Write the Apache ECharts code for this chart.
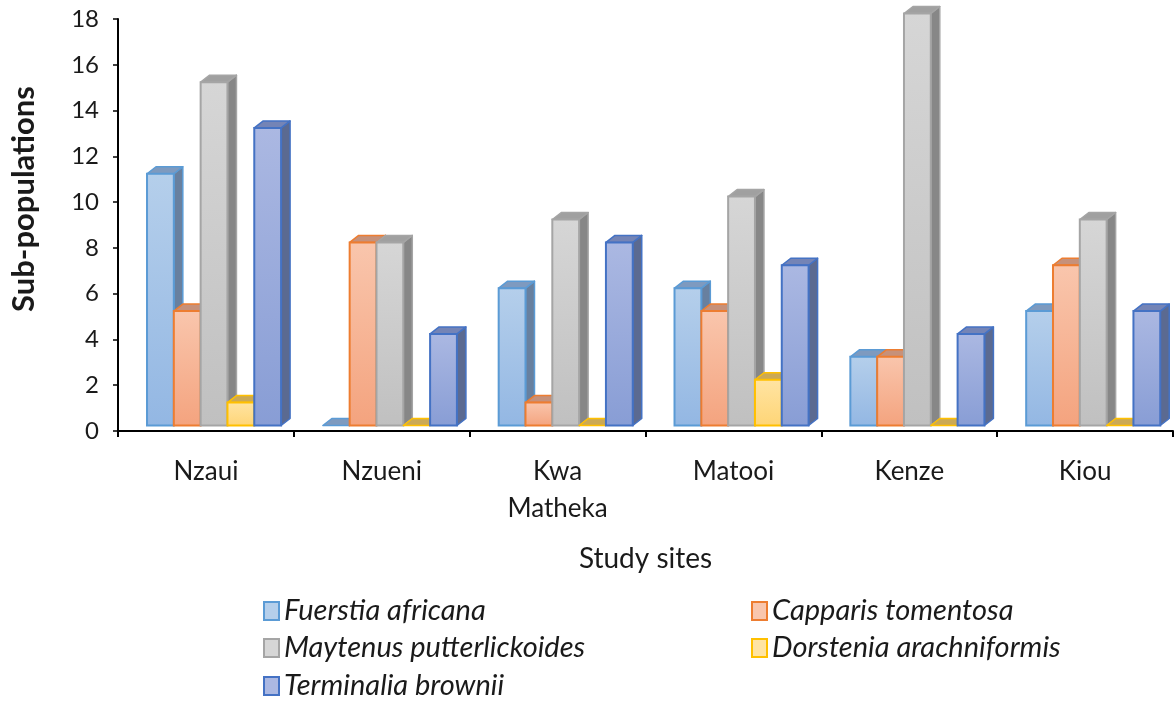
<!DOCTYPE html>
<html>
<head>
<meta charset="utf-8">
<style>
  html, body { margin: 0; padding: 0; background: #ffffff; }
  #chart { width: 1176px; height: 701px; }
</style>
<script src="https://cdn.jsdelivr.net/npm/echarts@6/dist/echarts.min.js"></script>
</head>
<body>
<div id="chart"></div>
<script>
// Study sites and sub-population counts per species
const sites = ['Nzaui', 'Nzueni', 'Kwa\nMatheka', 'Matooi', 'Kenze', 'Kiou'];
const yTicks = [0, 2, 4, 6, 8, 10, 12, 14, 16, 18];

const fuerstiaAfricana        = [11, 0, 6, 6, 3, 5];
const capparisTomentosa       = [5, 8, 1, 5, 3, 7];
const maytenusPutterlickoides = [15, 8, 9, 10, 18, 9];
const dorsteniaArachniformis  = [1, 0, 0, 2, 0, 0];
const terminaliaBrownii       = [13, 4, 8, 7, 4, 5];

const speciesNames = [
  'Fuerstia africana',
  'Capparis tomentosa',
  'Maytenus putterlickoides',
  'Dorstenia arachniformis',
  'Terminalia brownii'
];
const speciesValues = [
  fuerstiaAfricana,
  capparisTomentosa,
  maytenusPutterlickoides,
  dorsteniaArachniformis,
  terminaliaBrownii
];

// Face shading for each species: front gradient, outline, top, side
const palette = [
  { front: ['#b5cfeb', '#93b7e3'], line: '#5b9bd5', top: '#7e9abf', side: '#68809f' },
  { front: ['#f9c6ad', '#f4a37e'], line: '#ed7d31', top: '#c6917a', side: '#a8745c' },
  { front: ['#d6d6d6', '#c0c0c0'], line: '#a5a5a5', top: '#a0a0a0', side: '#878787' },
  { front: ['#ffe4a3', '#fed576'], line: '#ffc000', top: '#cba955', side: '#a88b40' },
  { front: ['#abb8e2', '#889dd5'], line: '#4472c4', top: '#7484b6', side: '#5b6a91' }
];

const START_RATIO = 0.165;  // gap before the first bar within a category
const BAR_RATIO = 0.1525;   // bar width as a share of the category width
const DEPTH_X = 9;
const DEPTH_Y = 7;
const LIFT = 5.5;           // floor of the 3-D box sits slightly above the axis

function makeRenderer(idx) {
  const c = palette[idx];
  return function (params, api) {
    const cat = api.value(0);
    const val = api.value(1);
    const base = api.coord([cat, 0]);
    const peak = api.coord([cat, val]);
    const catW = api.size([1, 0])[0];
    const bw = catW * BAR_RATIO;
    const x0 = base[0] - catW / 2 + catW * START_RATIO + idx * bw;
    const x1 = x0 + bw;
    const yb = base[1] - LIFT;
    const yt = peak[1] - LIFT;
    const children = [];
    children.push({
      type: 'polygon',
      shape: { points: [[x1, yt], [x1 + DEPTH_X, yt - DEPTH_Y], [x1 + DEPTH_X, yb - DEPTH_Y], [x1, yb]] },
      style: { fill: c.side, stroke: c.line, lineWidth: 1.5, lineJoin: 'round' }
    });
    children.push({
      type: 'polygon',
      shape: { points: [[x0, yt], [x0 + DEPTH_X, yt - DEPTH_Y], [x1 + DEPTH_X, yt - DEPTH_Y], [x1, yt]] },
      style: { fill: c.top, stroke: c.line, lineWidth: 1.5, lineJoin: 'round' }
    });
    if (yb - yt > 0.5) {
      children.push({
        type: 'rect',
        shape: { x: x0, y: yt, width: bw, height: yb - yt },
        style: {
          fill: new echarts.graphic.LinearGradient(0, 0, 0, 1, [
            { offset: 0, color: c.front[0] },
            { offset: 1, color: c.front[1] }
          ]),
          stroke: c.line,
          lineWidth: 2
        }
      });
    }
    return { type: 'group', children: children };
  };
}

const FONT = 'Lato, "Open Sans", sans-serif';

const series = speciesNames.map(function (name, idx) {
  return {
    name: name,
    type: 'custom',
    renderItem: makeRenderer(idx),
    encode: { x: 0, y: 1 },
    itemStyle: {
      color: palette[idx].front[0],
      borderColor: palette[idx].line,
      borderWidth: 2
    },
    data: speciesValues[idx].map(function (v, i) { return [i, v]; }),
    z: 2
  };
});

// Legend laid out as two columns; one entry per legend box
const legendSlots = [
  { name: speciesNames[0], left: 263, top: 596 },
  { name: speciesNames[1], left: 751, top: 596 },
  { name: speciesNames[2], left: 263, top: 633 },
  { name: speciesNames[3], left: 751, top: 633 },
  { name: speciesNames[4], left: 263, top: 671 }
];
const legends = legendSlots.map(function (s) {
  return {
    data: [s.name],
    left: s.left, top: s.top,
    padding: 0,
    itemWidth: 15, itemHeight: 18,
    icon: 'rect',
    selectedMode: false,
    textStyle: {
      fontFamily: FONT, fontStyle: 'italic', fontSize: 29,
      lineHeight: 30, color: '#1a1a1a'
    }
  };
});

const chart = echarts.init(document.getElementById('chart'), null, { renderer: 'canvas' });

chart.setOption({
  animation: false,
  backgroundColor: '#ffffff',
  grid: { left: 118, right: 3, top: 19, bottom: 270, containLabel: false },
  xAxis: {
    type: 'category',
    data: sites,
    name: 'Study sites',
    nameLocation: 'middle',
    nameGap: 114,
    nameTextStyle: { fontFamily: FONT, fontSize: 28, color: '#1a1a1a' },
    axisLine: { show: true, lineStyle: { color: '#000000', width: 2 } },
    axisTick: { show: true, length: 6, lineStyle: { color: '#000000', width: 2 } },
    axisLabel: {
      fontFamily: FONT, fontSize: 26, color: '#1a1a1a',
      margin: 22, lineHeight: 37, interval: 0
    },
    splitLine: { show: false }
  },
  yAxis: {
    type: 'value',
    min: yTicks[0],
    max: yTicks[yTicks.length - 1],
    interval: 2,
    axisLine: { show: true, lineStyle: { color: '#000000', width: 2 } },
    axisTick: { show: true, length: 5, lineStyle: { color: '#000000', width: 1.5 } },
    axisLabel: { fontFamily: FONT, fontSize: 24, color: '#1a1a1a', margin: 19 },
    splitLine: { show: false }
  },
  legend: legends,
  graphic: [
    {
      type: 'text',
      x: 24, y: 199,
      rotation: Math.PI / 2,
      style: {
        text: 'Sub-populations',
        fontFamily: FONT, fontWeight: 'bold', fontSize: 31,
        fill: '#1a1a1a', align: 'center', verticalAlign: 'middle'
      }
    }
  ],
  series: series
});
</script>
</body>
</html>
